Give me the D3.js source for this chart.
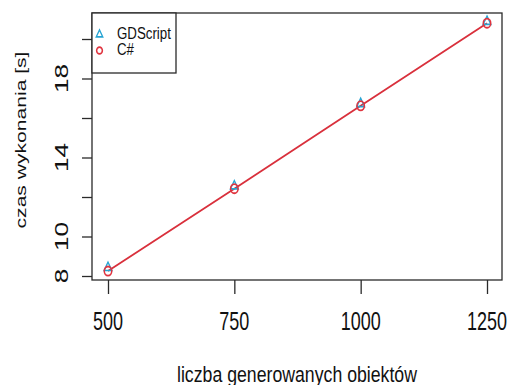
<!DOCTYPE html>
<html>
<head>
<meta charset="utf-8">
<script src="https://cdn.jsdelivr.net/npm/d3@7/dist/d3.min.js"></script>
<style>
  html, body { margin: 0; padding: 0; background: #fff; }
  svg { display: block; }
  text { font-family: "Liberation Sans", Arial, sans-serif; fill: #111; }
</style>
</head>
<body>
<svg id="chart" width="507" height="385"></svg>
<script>
// ---- data ----
const objects = [500, 750, 1000, 1250];
const gdscript = [8.42, 12.55, 16.72, 20.88];
const csharp = [8.25, 12.42, 16.62, 20.8];
const seriesNames = ["GDScript", "C#"];
const xTicks = [500, 750, 1000, 1250];
const yTicks = [8, 10, 12, 14, 16, 18, 20];
const yLabelTicks = [8, 10, 14, 18];
const xTitle = "liczba generowanych obiektów";
const yTitle = "czas wykonania [s]";

// ---- layout ----
const svg = d3.select("#chart");
const box = { left: 92, right: 502, top: 13, bottom: 280 };
const x = d3.scaleLinear().domain([500, 1250]).range([108, 487]);
const y = d3.scaleLinear().domain([8, 20]).range([276, 39]);
const blue = "#27a4d3", red = "#e0343f", lineRed = "#d9303c";
const k = 1.4; // vertical stretch of glyphs

// box
svg.append("rect").attr("x", box.left).attr("y", box.top)
  .attr("width", box.right - box.left).attr("height", box.bottom - box.top)
  .attr("fill", "none").attr("stroke", "#2a2a2a").attr("stroke-width", 1.3);

// x axis
const xAxis = d3.axisBottom(x).tickValues(xTicks).tickSize(14).tickSizeOuter(0).tickFormat("");
const gx = svg.append("g").attr("transform", `translate(0,${box.bottom})`).call(xAxis);
gx.select(".domain").remove();
gx.selectAll(".tick line").attr("stroke", "#2a2a2a").attr("stroke-width", 1.3);
svg.append("g").selectAll("text").data(xTicks).join("text")
  .attr("text-anchor", "middle")
  .attr("font-size", 18)
  .attr("transform", d => `translate(${x(d)},330) scale(1,${k})`)
  .text(d => d);

// y axis
const yAxis = d3.axisLeft(y).tickValues(yTicks).tickSize(10).tickSizeOuter(0).tickFormat("");
const gy = svg.append("g").attr("transform", `translate(${box.left},0)`).call(yAxis);
gy.select(".domain").remove();
gy.selectAll(".tick line").attr("stroke", "#2a2a2a").attr("stroke-width", 1.3);
svg.append("g").selectAll("text").data(yLabelTicks).join("text")
  .attr("text-anchor", "middle")
  .attr("font-size", 17.5)
  .attr("transform", d => `translate(67.5,${y(d)}) scale(1,${k + 0.1}) rotate(-90)`)
  .text(d => d);

// titles
svg.append("text").attr("text-anchor", "middle").attr("font-size", 17.7)
  .attr("transform", `translate(297,381.5) scale(1,1.26)`).text(xTitle);
svg.append("text").attr("text-anchor", "middle").attr("font-size", 15.5)
  .attr("transform", `translate(25.5,140) scale(1,1.36) rotate(-90)`).text(yTitle);

// line (fit drawn in red across both series)
const line = vals => d3.line().x((d, i) => x(objects[i])).y(d => y(d))(vals);
svg.append("path").attr("d", line(csharp)).attr("fill", "none")
  .attr("stroke", lineRed).attr("stroke-width", 1.8);

// symbols
const tri = d3.symbol().type(d3.symbolTriangle).size(26);
const circ = d3.symbol().type(d3.symbolCircle).size(44);
svg.append("g").selectAll("path").data(gdscript).join("path")
  .attr("d", tri())
  .attr("transform", (d, i) => `translate(${x(objects[i])},${y(d)}) scale(1,1.25)`)
  .attr("fill", "none").attr("stroke", blue).attr("stroke-width", 1.3);
svg.append("g").selectAll("path").data(csharp).join("path")
  .attr("d", circ())
  .attr("transform", (d, i) => `translate(${x(objects[i])},${y(d)}) scale(1,1.22)`)
  .attr("fill", "none").attr("stroke", red).attr("stroke-width", 1.5);

// legend
svg.append("rect").attr("x", box.left).attr("y", box.top).attr("width", 84).attr("height", 60)
  .attr("fill", "#fff").attr("stroke", "#2a2a2a").attr("stroke-width", 1.3);
const legY = [34.5, 50.5];
svg.append("path").attr("d", d3.symbol().type(d3.symbolTriangle).size(18)())
  .attr("transform", `translate(99.5,${legY[0]}) scale(1,1.25)`)
  .attr("fill", "none").attr("stroke", blue).attr("stroke-width", 1.3);
svg.append("path").attr("d", d3.symbol().type(d3.symbolCircle).size(26)())
  .attr("transform", `translate(99.5,${legY[1]}) scale(1,1.2)`)
  .attr("fill", "none").attr("stroke", red).attr("stroke-width", 1.5);
svg.append("g").selectAll("text").data(seriesNames).join("text")
  .attr("font-size", 13.3)
  .attr("transform", (d, i) => `translate(117,${legY[i] + 4.8}) scale(1,1.23)`)
  .text(d => d);
</script>
</body>
</html>
